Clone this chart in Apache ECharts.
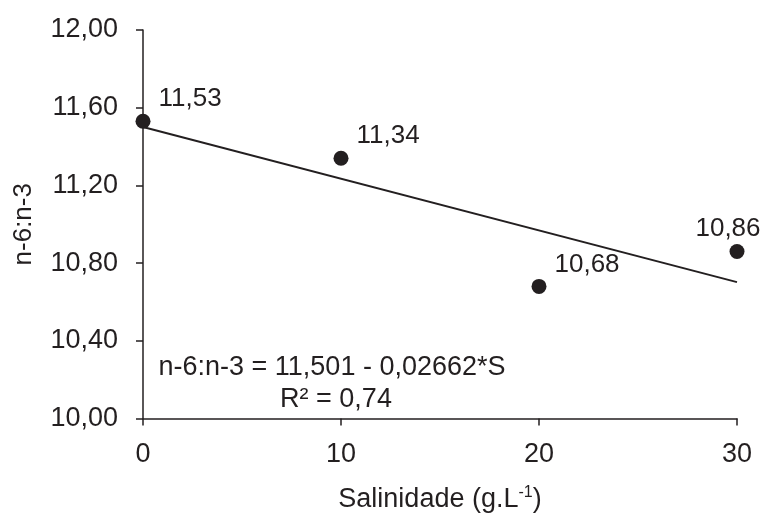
<!DOCTYPE html>
<html>
<head>
<meta charset="utf-8">
<script src="https://cdn.jsdelivr.net/npm/echarts@6/dist/echarts.min.js"></script>
<style>html,body{margin:0;padding:0;background:#fff;}#c{width:764px;height:518px;}</style>
</head>
<body>
<div id="c"></div>
<script>
var salinity = [0, 10, 20, 30];
var ratio = [11.53, 11.34, 10.68, 10.86];
var trendX = [0, 30];
var trendY = [11.501, 10.702];
var xTicks = [0, 10, 20, 30];
var yTicks = [10.0, 10.4, 10.8, 11.2, 11.6, 12.0];
var equationLine1 = 'n-6:n-3 = 11,501 - 0,02662*S';
var equationLine2 = 'R² = 0,74';

var FONT = '"Liberation Sans", Arial, sans-serif';
var INK = '#231f20';
var fmt = function (v) { return v.toFixed(2).replace('.', ','); };

var chart = echarts.init(document.getElementById('c'), null, {renderer: 'canvas'});

var pts = salinity.map(function (x, i) {
  var item = {value: [x, ratio[i]]};
  if (i === salinity.length - 1) {
    item.label = {position: 'top', distance: 2, offset: [-9, 0]};
  }
  return item;
});

chart.setOption({
  animation: false,
  backgroundColor: '#fff',
  grid: {left: 143, right: 27, top: 30, bottom: 91, containLabel: false},
  xAxis: {
    type: 'value', min: xTicks[0], max: xTicks[xTicks.length - 1], interval: 10,
    name: '{a|Salinidade (g.L}{s|-1}{a|)}',
    nameLocation: 'middle', nameGap: 66,
    nameTextStyle: {
      rich: {
        a: {fontFamily: FONT, fontSize: 27, color: INK, lineHeight: 30},
        s: {fontFamily: FONT, fontSize: 16, color: INK, verticalAlign: 'top', lineHeight: 30, padding: [0, 0, 12, 0]}
      }
    },
    axisLine: {show: true, lineStyle: {color: INK, width: 1.5}},
    axisTick: {show: true, inside: false, length: 7, lineStyle: {color: INK, width: 1.5}},
    axisLabel: {fontFamily: FONT, fontSize: 27, color: INK, margin: 23},
    splitLine: {show: false}
  },
  yAxis: {
    type: 'value', min: yTicks[0], max: yTicks[yTicks.length - 1], interval: 0.4,
    name: 'n-6:n-3', nameLocation: 'middle', nameGap: 106, nameRotate: 90,
    nameTextStyle: {fontFamily: FONT, fontSize: 26, color: INK},
    axisLine: {show: true, lineStyle: {color: INK, width: 1.5}},
    axisTick: {show: true, inside: false, length: 7, lineStyle: {color: INK, width: 1.5}},
    axisLabel: {fontFamily: FONT, fontSize: 27, color: INK, margin: 25, formatter: fmt},
    splitLine: {show: false}
  },
  series: [
    {
      type: 'line',
      data: trendX.map(function (x, i) { return [x, trendY[i]]; }),
      symbol: 'none',
      lineStyle: {color: INK, width: 2},
      silent: true,
      z: 2
    },
    {
      type: 'scatter',
      data: pts,
      symbol: 'circle', symbolSize: 15,
      itemStyle: {color: INK, opacity: 1},
      label: {
        show: true, position: 'right', distance: 8, offset: [0, -22],
        fontFamily: FONT, fontSize: 26, color: INK, opacity: 1,
        formatter: function (p) { return fmt(p.value[1]); }
      },
      z: 3
    }
  ],
  graphic: [
    {
      type: 'text', x: 332, y: 368,
      style: {
        text: equationLine1, fontFamily: FONT, fontSize: 27,
        fill: INK, align: 'center', verticalAlign: 'middle'
      }
    },
    {
      type: 'text', x: 336, y: 400,
      style: {
        text: equationLine2, fontFamily: FONT, fontSize: 27,
        fill: INK, align: 'center', verticalAlign: 'middle'
      }
    }
  ]
});
</script>
</body>
</html>
